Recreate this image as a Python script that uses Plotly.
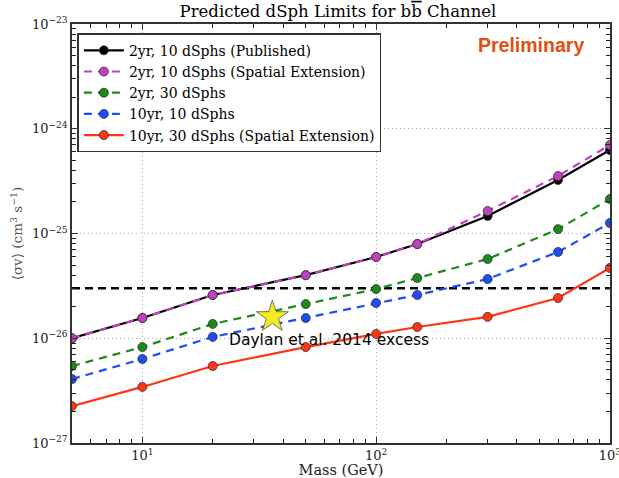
import plotly.graph_objects as go

mass = [5, 10, 20, 50, 100, 150, 300, 600, 1000]

published_2yr_10 = [1.0e-26, 1.56e-26, 2.59e-26, 4.0e-26, 5.97e-26, 7.94e-26, 1.47e-25, 3.24e-25, 6.27e-25]
spatial_2yr_10 = [1.0e-26, 1.56e-26, 2.59e-26, 4.0e-26, 5.97e-26, 7.94e-26, 1.64e-25, 3.54e-25, 7.0e-25]
yr2_30 = [5.43e-27, 8.24e-27, 1.37e-26, 2.12e-26, 2.95e-26, 3.76e-26, 5.71e-26, 1.10e-25, 2.13e-25]
yr10_10 = [4.08e-27, 6.34e-27, 1.03e-26, 1.56e-26, 2.17e-26, 2.59e-26, 3.68e-26, 6.66e-26, 1.26e-25]
yr10_30_spatial = [2.25e-27, 3.43e-27, 5.43e-27, 8.24e-27, 1.10e-26, 1.28e-26, 1.60e-26, 2.42e-26, 4.69e-26]

thermal_xs = 3e-26
excess_mass = [36]
excess_xs = [1.6e-26]

x_tickvals = [10, 100, 1000]
x_ticktext = ["10<sup>1</sup>", "10<sup>2</sup>", "10<sup>3</sup>"]
x_minor = [m * 10 ** e for e in (0, 1, 2) for m in range(2, 10) if m * 10 ** e >= 5]
y_tickvals = [1e-27, 1e-26, 1e-25, 1e-24, 1e-23]
y_ticktext = ["10<sup>−27</sup>", "10<sup>−26</sup>", "10<sup>−25</sup>", "10<sup>−24</sup>", "10<sup>−23</sup>"]
y_minor = [m * 10.0 ** e for e in (-27, -26, -25, -24) for m in range(2, 10)]

serif = "DejaVu Serif"
x_range = [0.699, 3.0005]
y_range = [-27, -23]
axis_color = "#333333"

fig = go.Figure()

fig.add_trace(go.Scatter(x=[5, 1000], y=[thermal_xs, thermal_xs], mode="lines",
                         line=dict(color="black", width=2.5, dash="8px,5px"),
                         showlegend=False, hoverinfo="skip"))

series = [
    ("2yr, 10 dSphs (Published)", published_2yr_10, "black", "solid"),
    ("2yr, 10 dSphs (Spatial Extension)", spatial_2yr_10, "#c040c0", "8px,6px"),
    ("2yr, 30 dSphs", yr2_30, "#1a8a1a", "8px,6px"),
    ("10yr, 10 dSphs", yr10_10, "#1f4df5", "8px,6px"),
    ("10yr, 30 dSphs (Spatial Extension)", yr10_30_spatial, "#ff3516", "solid"),
]
for name, vals, color, dash in series:
    fig.add_trace(go.Scatter(
        x=mass, y=vals, mode="lines+markers", name=name,
        line=dict(color=color, width=2.2, dash=dash),
        marker=dict(symbol="circle", size=9, color=color,
                    line=dict(color=axis_color, width=0.8)),
    ))

fig.add_trace(go.Scatter(x=excess_mass, y=excess_xs, mode="markers",
                         marker=dict(symbol="star", size=24, color="#f5ea1c",
                                     line=dict(color="#555555", width=0.8)),
                         showlegend=False, hoverinfo="skip"))

# invisible trace carrying the overlay axes used for minor ticks
fig.add_trace(go.Scatter(x=[5, 1000], y=[thermal_xs, thermal_xs], mode="markers",
                         marker=dict(size=1, opacity=0), xaxis="x2", yaxis="y2",
                         showlegend=False, hoverinfo="skip"))

fig.add_annotation(x=1.362, y=-26.02, xref="x", yref="y", text="Daylan et al. 2014 excess",
                   showarrow=False, xanchor="left", yanchor="middle",
                   font=dict(family="DejaVu Sans", size=15.5, color="black"))

fig.add_annotation(x=0.956, y=0.95, xref="paper", yref="paper", text="<b>Preliminary</b>",
                   showarrow=False, xanchor="right", yanchor="middle",
                   font=dict(family="Liberation Sans", size=19.5, color="#e0500f"))

fig.update_layout(
    width=619, height=478,
    margin=dict(l=72, r=9, t=24, b=35),
    paper_bgcolor="white", plot_bgcolor="white",
    title=dict(text="Predicted dSph Limits for b<span style='text-decoration:overline'>b</span> Channel",
               x=0.546, xanchor="center", y=0.977, yanchor="middle",
               font=dict(family=serif, size=16.5, color="black")),
    legend=dict(x=0.01, y=0.978, xanchor="left", yanchor="top",
                bgcolor="white", bordercolor=axis_color, borderwidth=1.5,
                font=dict(family=serif, size=14, color="black"),
                tracegroupgap=0, itemwidth=40),
    showlegend=True,
    xaxis=dict(type="log", range=x_range, automargin=False,
               tickmode="array", tickvals=x_tickvals, ticktext=x_ticktext, ticklabeloverflow="allow",
               ticks="inside", ticklen=6, tickcolor=axis_color,
               showline=True, linecolor=axis_color, linewidth=1.5, mirror="allticks",
               showgrid=True, gridcolor="#aaaaaa", griddash="1px,3px", gridwidth=1,
               tickfont=dict(family=serif, size=13, color="#222222"),
               title=dict(text="Mass (GeV)", font=dict(family=serif, size=14.5, color="#222222"), standoff=9),
               zeroline=False),
    yaxis=dict(type="log", range=y_range, automargin=False,
               tickmode="array", tickvals=y_tickvals, ticktext=y_ticktext, ticklabeloverflow="allow",
               ticks="inside", ticklen=6, tickcolor=axis_color,
               showline=True, linecolor=axis_color, linewidth=1.5, mirror="allticks",
               showgrid=True, gridcolor="#aaaaaa", griddash="1px,3px", gridwidth=1,
               tickfont=dict(family=serif, size=13, color="#222222"),
               title=dict(text="⟨σv⟩ (cm<sup>3</sup> s<sup>−1</sup>)",
                          font=dict(family=serif, size=13.5, color="#555555"), standoff=6),
               zeroline=False),
    xaxis2=dict(type="log", range=x_range, overlaying="x", side="bottom", anchor="y2",
                automargin=False, tickmode="array", tickvals=x_minor, showticklabels=False,
                ticks="inside", ticklen=4, tickwidth=1.2, tickcolor="#222222", mirror="allticks",
                showline=True, linecolor=axis_color, linewidth=1.5, showgrid=False, zeroline=False),
    yaxis2=dict(type="log", range=y_range, overlaying="y", side="left", anchor="x2",
                automargin=False, tickmode="array", tickvals=y_minor, showticklabels=False,
                ticks="inside", ticklen=4, tickwidth=1.2, tickcolor="#222222", mirror="allticks",
                showline=True, linecolor=axis_color, linewidth=1.5, showgrid=False, zeroline=False),
)

fig.write_html("out.html")
